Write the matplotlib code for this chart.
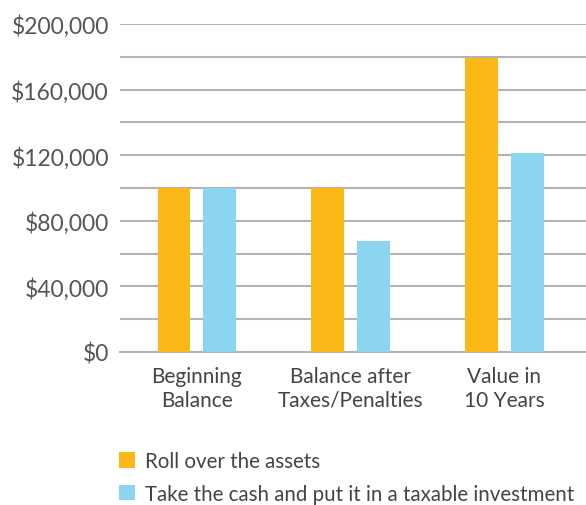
import matplotlib.pyplot as plt
import numpy as np
from matplotlib.patches import Patch
from matplotlib.ticker import FuncFormatter, MultipleLocator

categories = ["Beginning\nBalance", "Balance after\nTaxes/Penalties", "Value in\n10 Years"]
rollover = [100000, 100000, 179000]
cash = [100000, 67700, 121300]
series_names = ["Roll over the assets", "Take the cash and put it in a taxable investment"]

orange = "#FCB817"
blue = "#8CD5F1"
text_color = "#555555"

plt.rcParams["font.family"] = ["Lato", "DejaVu Sans"]

fig = plt.figure(figsize=(5.86, 5.06), dpi=100)
ax = fig.add_axes([0.2048, 0.3024, 0.7952, 0.6482])

x = np.arange(len(categories))
width = 0.214
offset = 0.149
ax.bar(x - offset, rollover, width, color=orange, zorder=3)
ax.bar(x + offset, cash, width, color=blue, zorder=3)

ax.set_xlim(-0.5, 2.53)
ax.set_ylim(0, 200000)
ax.yaxis.set_major_locator(MultipleLocator(40000))
ax.yaxis.set_minor_locator(MultipleLocator(20000))
ax.yaxis.set_major_formatter(FuncFormatter(lambda v, p: f"${v:,.0f}"))
ax.grid(axis="y", which="both", color="#b3b3b3", linewidth=1.5, zorder=0)
ax.set_axisbelow(True)

for s in ["top", "right", "left"]:
    ax.spines[s].set_visible(False)
ax.spines["bottom"].set_color("#b3b3b3")
ax.spines["bottom"].set_linewidth(1.5)

ax.tick_params(axis="y", which="both", length=0, pad=8, labelsize=16.5, labelcolor=text_color)
ax.set_xticks(x)
ax.set_xticklabels(categories, linespacing=1.25)
ax.tick_params(axis="x", length=0, pad=10, labelsize=15, labelcolor="#444444")

handles = [Patch(facecolor=orange, edgecolor="none"), Patch(facecolor=blue, edgecolor="none")]
fig.legend(handles, series_names, loc="lower left", bbox_to_anchor=(0.171, -0.034),
           frameon=False, fontsize=14.8, labelcolor="#444444",
           handlelength=0.8, handleheight=0.8, handletextpad=0.5, labelspacing=0.6)

fig.savefig("out.png", dpi=100)
